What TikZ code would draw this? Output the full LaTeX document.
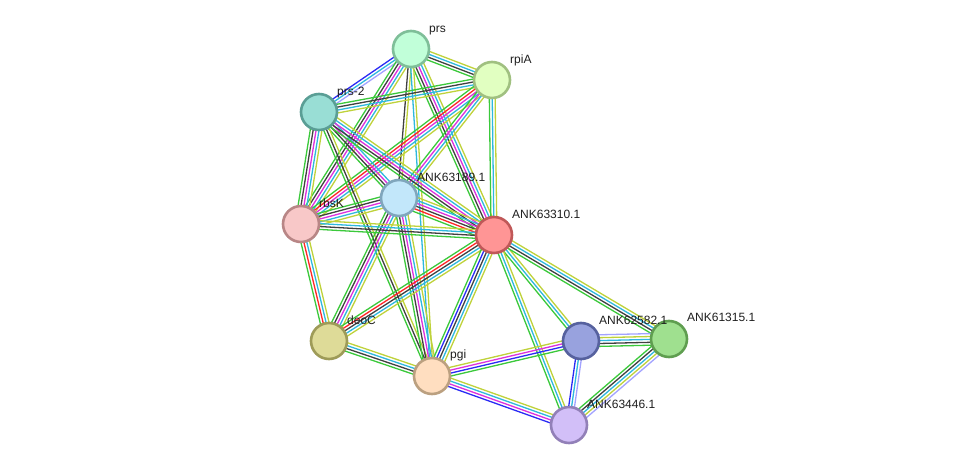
\documentclass[tikz,border=0pt]{standalone}
\usepackage{fontspec}
\setmainfont{Liberation Sans}
\usetikzlibrary{calc,backgrounds}
\definecolor{sgreen}{HTML}{3BC93B}
\definecolor{sred}{HTML}{FF2626}
\definecolor{sblue}{HTML}{2A2AF5}
\definecolor{sblack}{HTML}{404040}
\definecolor{smag}{HTML}{DD30DD}
\definecolor{scyan}{HTML}{2EB8DE}
\definecolor{syel}{HTML}{BFD23A}
\definecolor{slav}{HTML}{A3A3FF}
\definecolor{fprs}{HTML}{C1FFD9}\definecolor{dprs}{HTML}{7FBF99}
\definecolor{frpi}{HTML}{E1FFC1}\definecolor{drpi}{HTML}{A0C080}
\definecolor{fprsB}{HTML}{99DED5}\definecolor{dprsB}{HTML}{5A9E95}
\definecolor{fa}{HTML}{C2E7FA}\definecolor{da}{HTML}{80A6BC}
\definecolor{frbs}{HTML}{F8C8C8}\definecolor{drbs}{HTML}{B88686}
\definecolor{fb}{HTML}{FF9595}\definecolor{db}{HTML}{C05858}
\definecolor{fdeo}{HTML}{DEDB98}\definecolor{ddeo}{HTML}{9E9B58}
\definecolor{fpgi}{HTML}{FFDEC0}\definecolor{dpgi}{HTML}{BBA080}
\definecolor{fc}{HTML}{98A2DE}\definecolor{dc}{HTML}{56619E}
\definecolor{fd}{HTML}{9FE08F}\definecolor{dd}{HTML}{5F9E50}
\definecolor{fe}{HTML}{D2BFF8}\definecolor{de}{HTML}{9280B8}
\tikzset{
  prot/.style={circle, minimum size=36pt, inner sep=0pt, line width=2.6pt},
  lab/.style={anchor=base west, inner sep=0pt, font=\fontsize{12}{14}\selectfont, text=black!88},
  evline/.style={line width=1.3pt}
}
\newcommand\sedge[3]{%
  \def\nn{0}%
  \foreach \cc in {#3}{\pgfmathtruncatemacro\tmpn{\nn+1}\xdef\nn{\tmpn}}%
  \foreach \cc [count=\ii] in {#3}{%
    \pgfmathsetmacro\off{(\ii-(\nn+1)/2)*2.9}%
    \draw[evline,\cc] ($(#1.center)!\off pt!90:(#2.center)$) -- ($(#2.center)!\off pt!-90:(#1.center)$);
  }}
\begin{document}
\begin{tikzpicture}[x=1pt,y=-1pt]
\useasboundingbox (0,0) rectangle (975,470);
% nodes
\node[prot, fill=fprs, draw=dprs] (prs) at (411,49) {};
\node[prot, fill=frpi, draw=drpi] (rpiA) at (492,80) {};
\node[prot, fill=fprsB, draw=dprsB] (prsB) at (319,112) {};
\node[prot, fill=fa, draw=da] (n189) at (399,198) {};
\node[prot, fill=frbs, draw=drbs] (rbsK) at (301,224) {};
\node[prot, fill=fb, draw=db] (n310) at (494,235) {};
\node[prot, fill=fdeo, draw=ddeo] (deoC) at (329,341) {};
\node[prot, fill=fpgi, draw=dpgi] (pgi) at (432,376) {};
\node[prot, fill=fc, draw=dc] (n582) at (581,341) {};
\node[prot, fill=fd, draw=dd] (n315) at (669,339) {};
\node[prot, fill=fe, draw=de] (n446) at (569,425) {};
% labels
\node[lab] (lprs) at (429,33) {prs};
\node[lab] (lrpiA) at (510,64) {rpiA};
\node[lab] (lprsB) at (337,96) {prs-2};
\node[lab] (l189) at (417,182) {ANK63189.1};
\node[lab] (lrbsK) at (319,208) {rbsK};
\node[lab] (l310) at (512,219) {ANK63310.1};
\node[lab] (ldeoC) at (347,325) {deoC};
\node[lab] (lpgi) at (450,359) {pgi};
\node[lab] (l582) at (599,325) {ANK62582.1};
\node[lab] (l315) at (687,322) {ANK61315.1};
\node[lab] (l446) at (587,408) {ANK63446.1};
\begin{pgfonlayer}{background}
\fill[white] (0,0) rectangle (975,470);
\sedge{prs}{rpiA}{sgreen,sblack,scyan,syel}
\sedge{prs}{prsB}{sblue,scyan,slav}
\sedge{prs}{rbsK}{sgreen,sblack,smag,scyan,syel}
\sedge{prs}{n189}{sblack,syel}
\sedge{prs}{n310}{sgreen,sblack,smag,scyan,syel}
\sedge{prs}{pgi}{scyan,syel}
\sedge{rpiA}{prsB}{sgreen,sblack,scyan,syel}
\sedge{rpiA}{n310}{sgreen,scyan,syel}
\sedge{rpiA}{rbsK}{sgreen,sred,smag,scyan,syel}
\sedge{rpiA}{n189}{sgreen,smag,scyan,syel}
\sedge{prsB}{rbsK}{sgreen,sblack,smag,scyan,syel}
\sedge{prsB}{n189}{sgreen,sblack,smag,scyan}
\sedge{prsB}{n310}{sgreen,sblack,smag,scyan,syel}
\sedge{prsB}{pgi}{sgreen,sblack,syel}
\sedge{n189}{rbsK}{sgreen,sblack,smag,scyan,syel}
\sedge{n189}{n310}{sgreen,sred,sblack,smag,scyan,syel}
\sedge{n189}{deoC}{sgreen,sblack,smag,scyan,syel}
\sedge{n189}{pgi}{sgreen,sblack,smag,scyan,syel}
\sedge{rbsK}{n310}{sgreen,sblack,scyan,syel}
\sedge{rbsK}{deoC}{sgreen,sred,scyan,syel}
\sedge{n310}{deoC}{sgreen,sred,sblack,scyan,syel}
\sedge{n310}{pgi}{sgreen,sblue,sblack,scyan,syel}
\sedge{n310}{n582}{sgreen,scyan,syel}
\sedge{n310}{n315}{sgreen,sblack,scyan,syel}
\sedge{n310}{n446}{sgreen,scyan,syel}
\sedge{deoC}{pgi}{sgreen,sblack,scyan,syel}
\sedge{pgi}{n582}{sgreen,sblue,smag,syel}
\sedge{pgi}{n446}{sblue,smag,scyan,syel}
\sedge{n582}{n315}{sgreen,sblack,scyan,syel,slav}
\sedge{n582}{n446}{sblue,scyan,slav}
\sedge{n315}{n446}{sgreen,sblack,scyan,syel,slav}
\end{pgfonlayer}
\end{tikzpicture}
\end{document}
